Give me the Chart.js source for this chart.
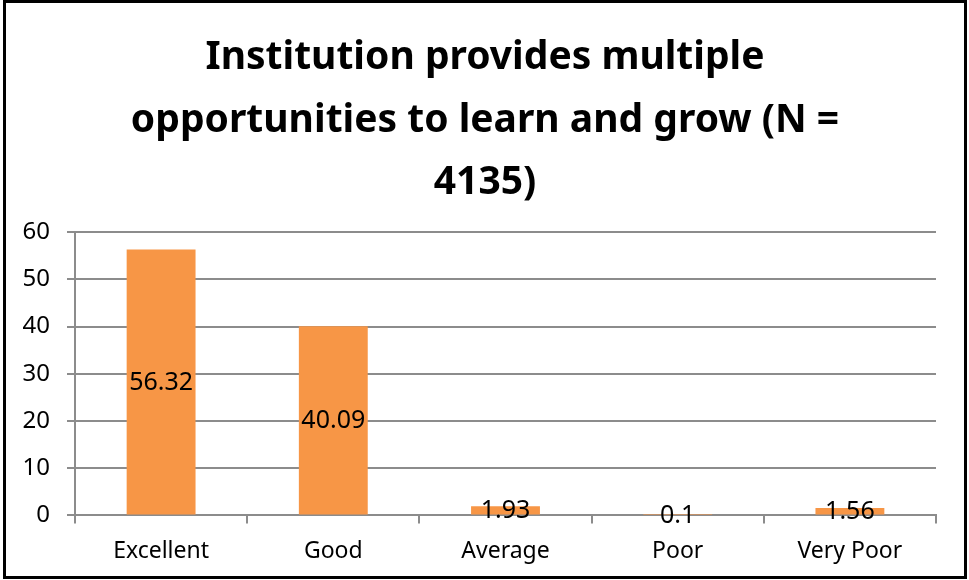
<!DOCTYPE html>
<html lang="en">
<head>
  <meta charset="UTF-8" />
  <title>Institution provides multiple opportunities</title>
  <script src="https://cdn.jsdelivr.net/npm/chart.js"></script>
  <style>
    body { margin: 0; background: #fff; }
    .frame {
      position: absolute;
      left: 3px; top: 0px;
      width: 964px; height: 579px;
      box-sizing: border-box;
      border: 3px solid #000;
      background: #fff;
    }
    canvas { display: block; }
  </style>
</head>
<body>
  <div class="frame"><canvas id="chart"></canvas></div>

  <script>
    const categories = ["Excellent", "Good", "Average", "Poor", "Very Poor"];
    const percentages = [56.32, 40.09, 1.93, 0.1, 1.56];
    const titleLines = ["Institution provides multiple", "opportunities to learn and grow (N =", "4135)"];

    const FONT = "'Noto Sans', 'Liberation Sans', sans-serif";

    // labels drawn in the middle of each bar, like the spreadsheet default
    const centerLabels = {
      id: "centerLabels",
      afterDatasetsDraw(chart) {
        const ctx = chart.ctx;
        const meta = chart.getDatasetMeta(0);
        ctx.save();
        ctx.font = "25px " + FONT;
        ctx.fillStyle = "#000";
        ctx.textAlign = "center";
        ctx.textBaseline = "middle";
        meta.data.forEach((bar, i) => {
          const y = (bar.y + bar.base) / 2;
          ctx.fillText(String(percentages[i]), bar.x, y + 1);
        });
        ctx.restore();
      }
    };

    new Chart(document.getElementById("chart"), {
      type: "bar",
      data: {
        labels: categories,
        datasets: [{
          data: percentages,
          backgroundColor: "#F79646",
          barPercentage: 0.4,
          categoryPercentage: 1.0
        }]
      },
      options: {
        responsive: true,
        maintainAspectRatio: false,
        animation: false,
        layout: { padding: { left: 0, right: 0, top: 0, bottom: -3 } },
        plugins: {
          legend: { display: false },
          tooltip: { enabled: false },
          title: {
            display: true,
            text: titleLines,
            color: "#000",
            font: { family: FONT, size: 39, weight: "bold", lineHeight: 1.6 },
            padding: { top: 24, bottom: 18 }
          }
        },
        scales: {
          x: {
            grid: {
              display: true,
              drawOnChartArea: false,
              drawTicks: true,
              tickLength: 8,
              color: "#8c8c8c",
              lineWidth: 2
            },
            border: { color: "#8c8c8c", width: 2 },
            ticks: { color: "#000", font: { family: FONT, size: 23 }, padding: 14 }
          },
          y: {
            min: 0,
            max: 60,
            afterFit(scale) { scale.width = 69; },
            ticks: { stepSize: 10, color: "#000", font: { family: FONT, size: 24 }, padding: 17 },
            grid: { color: "#8c8c8c", lineWidth: 2, tickLength: 8 },
            border: { color: "#8c8c8c", width: 2 }
          },
          // empty right-hand gutter so the plot ends short of the frame
          gutter: {
            type: "linear",
            position: "right",
            afterFit(scale) { scale.width = 28; },
            ticks: { display: false },
            grid: { display: false },
            border: { display: false }
          }
        }
      },
      plugins: [centerLabels]
    });
  </script>
</body>
</html>
